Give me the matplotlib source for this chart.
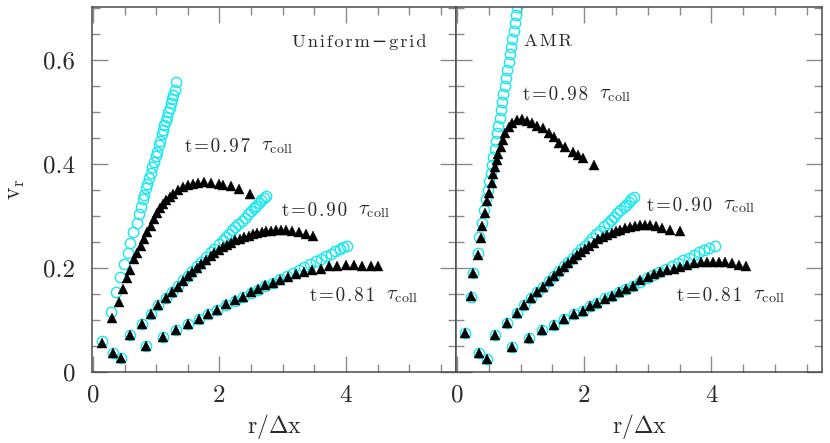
import matplotlib
matplotlib.use("Agg")
import matplotlib.pyplot as plt
from matplotlib.ticker import MultipleLocator, FuncFormatter
from matplotlib.transforms import offset_copy

plt.rcParams['font.family'] = ['cmr10', 'DejaVu Serif']
plt.rcParams['mathtext.fontset'] = 'cm'
plt.rcParams['axes.formatter.use_mathtext'] = True

# ---------------- data ----------------
# Uniform-grid panel
L97c_x = [0.15,0.28,0.36,0.43,0.49,0.55,0.59,0.64,0.69,0.72,0.76,0.79,0.81,0.84,0.86,0.89,0.91,0.94,0.96,0.99,1.01,1.04,1.06,1.09,1.11,1.13,1.15,1.17,1.19,1.21,1.23,1.25,1.27,1.29,1.31]
L97c_y = [0.060,0.116,0.153,0.182,0.208,0.229,0.249,0.270,0.286,0.304,0.318,0.332,0.340,0.353,0.361,0.374,0.382,0.395,0.403,0.416,0.424,0.437,0.445,0.458,0.466,0.475,0.483,0.491,0.500,0.508,0.517,0.525,0.533,0.542,0.557]
L97t_x = [0.15,0.30,0.41,0.47,0.54,0.59,0.645,0.70,0.756,0.80,0.855,0.91,0.96,1.01,1.055,1.11,1.16,1.21,1.26,1.34,1.42,1.50,1.58,1.66,1.76,1.87,2.00,2.06,2.18,2.31,2.48]
L97t_y = [0.055,0.104,0.134,0.159,0.180,0.197,0.217,0.229,0.243,0.255,0.269,0.281,0.294,0.305,0.315,0.324,0.331,0.337,0.343,0.350,0.356,0.360,0.362,0.364,0.366,0.364,0.362,0.360,0.358,0.352,0.343]

L90c_x = [0.31,0.58,0.77,0.91,1.03,1.15,1.25,1.34,1.43,1.50,1.57,1.64,1.71,1.79,1.86,1.92,1.99,2.05,2.10,2.15,2.20,2.25,2.30,2.35,2.40,2.45,2.50,2.54,2.58,2.62,2.66,2.70,2.73]
L90c_y = [0.037,0.071,0.092,0.111,0.128,0.142,0.153,0.165,0.176,0.185,0.194,0.203,0.211,0.221,0.230,0.237,0.246,0.254,0.260,0.266,0.273,0.279,0.285,0.291,0.297,0.303,0.310,0.315,0.320,0.325,0.330,0.335,0.339]
L90t_x = [0.31,0.58,0.77,0.91,1.03,1.15,1.25,1.34,1.43,1.50,1.57,1.64,1.71,1.79,1.86,1.92,1.99,2.05,2.12,2.18,2.25,2.32,2.39,2.46,2.53,2.60,2.67,2.74,2.81,2.89,2.97,3.05,3.15,3.26,3.37,3.48]
L90t_y = [0.037,0.071,0.092,0.111,0.128,0.142,0.153,0.164,0.175,0.184,0.192,0.200,0.208,0.216,0.223,0.229,0.235,0.240,0.245,0.249,0.253,0.256,0.259,0.262,0.265,0.267,0.269,0.271,0.272,0.273,0.273,0.273,0.272,0.270,0.266,0.262]

L81c_x = [0.45,0.845,1.11,1.32,1.50,1.67,1.82,1.96,2.11,2.24,2.37,2.50,2.61,2.72,2.84,2.96,3.06,3.16,3.25,3.34,3.43,3.52,3.60,3.68,3.76,3.83,3.90,3.96,4.02]
L81c_y = [0.026,0.050,0.067,0.081,0.092,0.101,0.111,0.119,0.129,0.136,0.144,0.152,0.158,0.165,0.172,0.179,0.185,0.191,0.197,0.202,0.208,0.213,0.218,0.223,0.227,0.232,0.236,0.240,0.243]
L81t_x = [0.45,0.845,1.11,1.32,1.50,1.67,1.82,1.96,2.11,2.24,2.37,2.50,2.61,2.72,2.84,2.96,3.08,3.21,3.34,3.47,3.60,3.73,3.86,4.00,4.13,4.26,4.39,4.51]
L81t_y = [0.026,0.050,0.067,0.081,0.092,0.101,0.112,0.119,0.131,0.138,0.145,0.153,0.159,0.167,0.172,0.177,0.182,0.188,0.193,0.196,0.199,0.203,0.204,0.206,0.206,0.204,0.204,0.203]

# AMR panel
R98c_x = [0.126,0.215,0.257,0.325,0.35,0.394,0.425,0.457,0.48,0.51,0.53,0.55,0.57,0.59,0.61,0.63,0.65,0.67,0.69,0.71,0.73,0.75,0.77,0.79,0.81,0.83,0.85,0.87,0.89,0.91,0.93,0.95]
R98c_y = [0.0756,0.145,0.190,0.229,0.260,0.287,0.312,0.332,0.350,0.368,0.383,0.398,0.413,0.428,0.444,0.459,0.474,0.489,0.504,0.520,0.535,0.550,0.565,0.580,0.596,0.611,0.626,0.641,0.656,0.672,0.687,0.702]
R98t_x = [0.126,0.215,0.257,0.325,0.373,0.40,0.44,0.477,0.51,0.546,0.572,0.60,0.625,0.65,0.69,0.73,0.756,0.81,0.86,0.94,1.02,1.10,1.18,1.26,1.36,1.45,1.52,1.61,1.70,1.82,1.91,1.98,2.16]
R98t_y = [0.0756,0.146,0.190,0.225,0.257,0.281,0.305,0.328,0.345,0.364,0.381,0.395,0.408,0.420,0.433,0.446,0.459,0.472,0.479,0.485,0.486,0.483,0.479,0.473,0.469,0.460,0.452,0.441,0.433,0.424,0.417,0.411,0.398]

R90c_x = [0.34,0.60,0.79,0.94,1.05,1.17,1.26,1.36,1.45,1.53,1.61,1.68,1.75,1.82,1.89,1.95,2.01,2.07,2.13,2.19,2.25,2.31,2.37,2.42,2.47,2.52,2.57,2.62,2.66,2.70,2.74,2.78]
R90c_y = [0.036,0.071,0.094,0.113,0.129,0.142,0.153,0.164,0.175,0.185,0.195,0.203,0.212,0.220,0.229,0.236,0.243,0.250,0.258,0.265,0.272,0.280,0.287,0.293,0.299,0.305,0.311,0.317,0.322,0.327,0.332,0.337]
R90t_x = [0.34,0.60,0.79,0.94,1.05,1.17,1.26,1.36,1.45,1.53,1.61,1.68,1.75,1.82,1.89,1.95,2.01,2.08,2.15,2.22,2.29,2.36,2.43,2.50,2.57,2.64,2.72,2.80,2.88,2.96,3.04,3.13,3.22,3.35,3.50]
R90t_y = [0.036,0.071,0.094,0.113,0.129,0.142,0.153,0.164,0.175,0.185,0.194,0.202,0.210,0.218,0.225,0.231,0.237,0.243,0.249,0.255,0.260,0.264,0.268,0.271,0.274,0.277,0.279,0.281,0.282,0.283,0.283,0.280,0.277,0.274,0.272]

R81c_x = [0.468,0.86,1.13,1.34,1.53,1.69,1.84,1.98,2.09,2.20,2.32,2.43,2.54,2.65,2.76,2.87,2.98,3.08,3.18,3.28,3.38,3.47,3.56,3.65,3.73,3.81,3.89,3.97,4.05]
R81c_y = [0.025,0.049,0.065,0.081,0.090,0.101,0.112,0.118,0.127,0.133,0.142,0.147,0.153,0.160,0.166,0.173,0.180,0.186,0.192,0.198,0.204,0.209,0.215,0.220,0.225,0.230,0.234,0.239,0.242]
R81t_x = [0.468,0.86,1.13,1.34,1.53,1.69,1.84,1.98,2.09,2.20,2.32,2.43,2.54,2.65,2.76,2.88,3.00,3.10,3.20,3.30,3.41,3.51,3.62,3.72,3.83,3.93,4.02,4.12,4.22,4.33,4.44,4.54]
R81t_y = [0.025,0.049,0.065,0.081,0.090,0.101,0.112,0.118,0.127,0.133,0.141,0.147,0.153,0.160,0.166,0.176,0.183,0.188,0.193,0.196,0.199,0.201,0.205,0.209,0.211,0.212,0.212,0.212,0.211,0.209,0.206,0.204]

panel_titles = ["Uniform\u2212grid", "AMR"]
left_labels = [("t=0.97", 1.45, 0.433), ("t=0.90", 2.99, 0.310), ("t=0.81", 3.43, 0.146)]
right_labels = [("t=0.98", 1.04, 0.533), ("t=0.90", 2.99, 0.319), ("t=0.81", 3.46, 0.146)]

TXT = '#2a2a2a'
HAIR = '\u200a'

def spaced(s):
    return HAIR.join(s)

# ---------------- figure ----------------
W, H = 830, 443
fig = plt.figure(figsize=(W/100, H/100), dpi=100)
axL = fig.add_axes([92/W, 71/H, 364/W, 365/H])
axR = fig.add_axes([456/W, 71/H, 366/W, 365/H])

CYAN = '#14e8f0'
circ_kw = dict(ls='none', marker='o', ms=7.4, mfc='none', mec=CYAN, mew=1.0, zorder=2)
tri_kw = dict(ls='none', marker='^', ms=6.8, mfc='black', mec='black', mew=0.3, zorder=3)

series_L = [(L97c_x, L97c_y, L97t_x, L97t_y), (L90c_x, L90c_y, L90t_x, L90t_y), (L81c_x, L81c_y, L81t_x, L81t_y)]
series_R = [(R98c_x, R98c_y, R98t_x, R98t_y), (R90c_x, R90c_y, R90t_x, R90t_y), (R81c_x, R81c_y, R81t_x, R81t_y)]

for ax, series in ((axL, series_L), (axR, series_R)):
    for cx, cy, tx, ty in series:
        ax.plot(cx, cy, **circ_kw)
    for cx, cy, tx, ty in series:
        ax.plot(tx, ty, **tri_kw)

def yfmt(v, p):
    return '0' if abs(v) < 1e-9 else f'{v:.1f}'

for ax in (axL, axR):
    ax.set_xlim(-0.016, 5.74)
    ax.set_ylim(0, 0.702)
    ax.xaxis.set_major_locator(MultipleLocator(2))
    ax.xaxis.set_minor_locator(MultipleLocator(0.5))
    ax.yaxis.set_major_locator(MultipleLocator(0.2))
    ax.yaxis.set_minor_locator(MultipleLocator(0.05))
    ax.xaxis.set_major_formatter(FuncFormatter(lambda v, p: f'{v:.0f}'))
    ax.yaxis.set_major_formatter(FuncFormatter(yfmt))
    ax.tick_params(which='both', direction='in', top=True, right=True, color='#8a8a8a', width=1.0,
                   labelcolor=TXT)
    ax.tick_params(which='major', length=11.5, labelsize=18)
    ax.tick_params(axis='x', which='major', pad=9)
    ax.tick_params(axis='y', which='major', pad=12)
    ax.tick_params(which='minor', length=5.8)
    for s in ax.spines.values():
        s.set_color('#4a4a4a')
        s.set_linewidth(1.1)
    ax.set_xlabel(r'r/$\Delta$x', fontsize=17, labelpad=4, color=TXT)

axR.tick_params(labelleft=False)
axL.set_ylabel(r'v$_{\rm r}$', fontsize=17, labelpad=12, color=TXT)

axL.text(3.15, 0.635, spaced(panel_titles[0]), fontsize=13.3, va='center', ha='left', color=TXT)
axR.text(1.05, 0.635, spaced(panel_titles[1]), fontsize=13.3, va='center', ha='left', color=TXT)

for ax, labs in ((axL, left_labels), (axR, right_labels)):
    tau_tr = offset_copy(ax.transData, fig=fig, x=76, y=0, units='dots')
    for s, x, y in labs:
        ax.text(x, y, spaced(s), fontsize=13.6, va='center', ha='left', color=TXT)
        ax.text(x, y, r'$\tau_{\rm coll}$', fontsize=14.5, va='center', ha='left', color=TXT,
                transform=tau_tr)

fig.savefig('out.png', dpi=100)
